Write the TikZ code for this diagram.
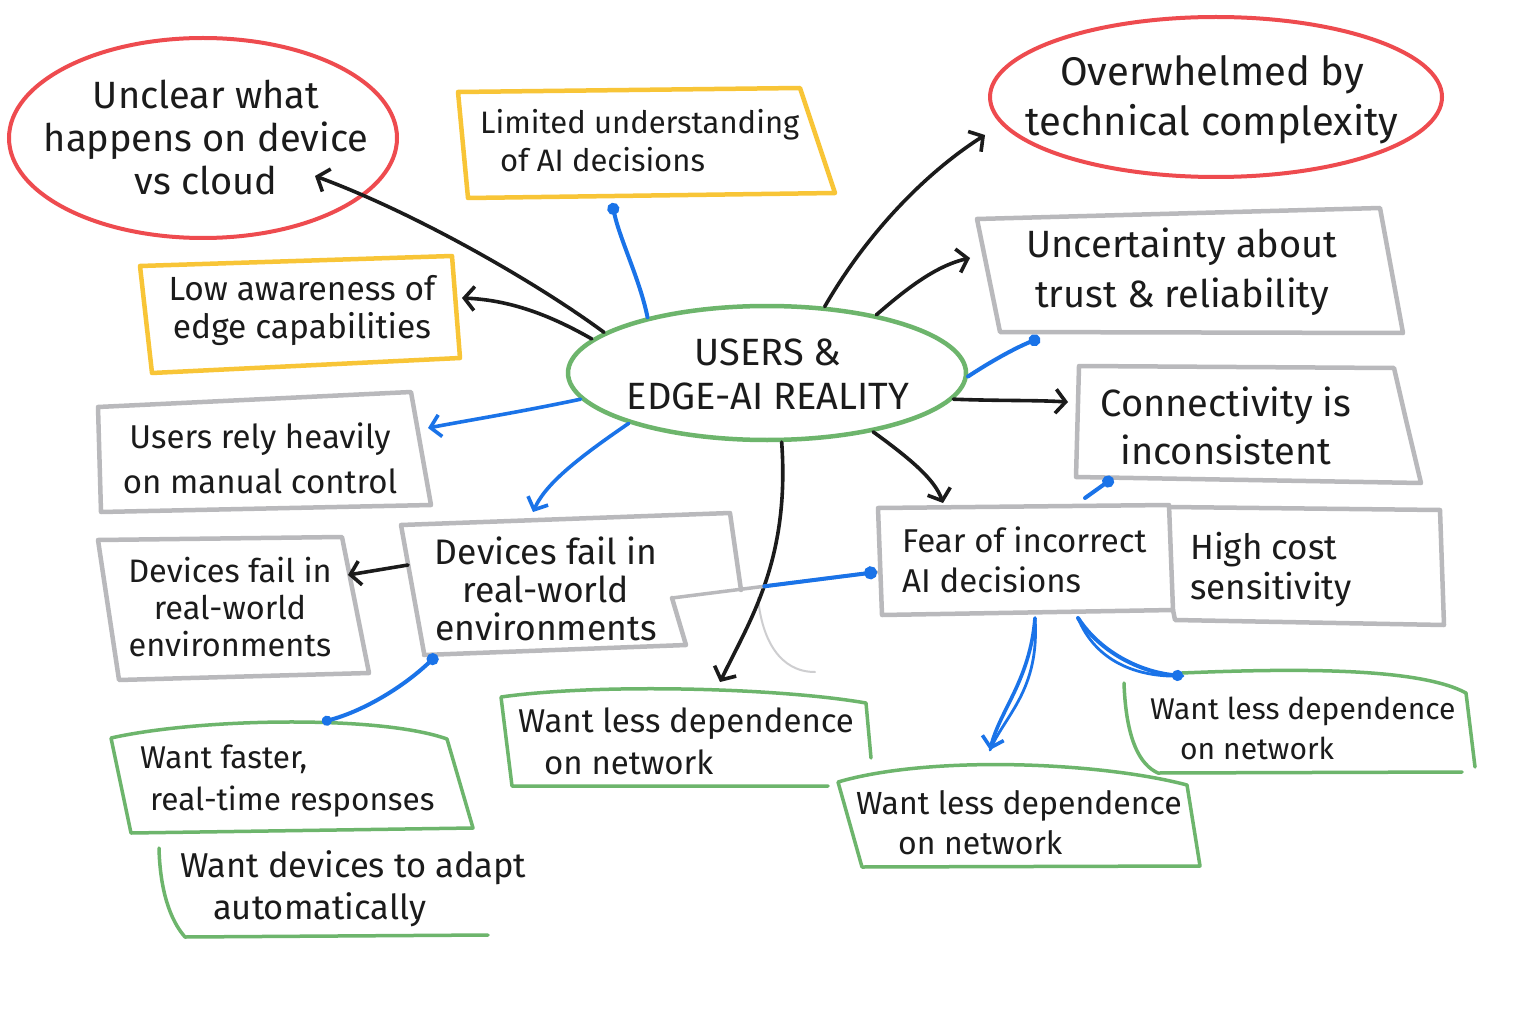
\documentclass[tikz,border=0pt]{standalone}
\usepackage{fontspec}
\setmainfont{Fira Sans}
\usetikzlibrary{arrows.meta,shapes.geometric,calc}
\definecolor{cred}{HTML}{EE4B4F}
\definecolor{cyel}{HTML}{F8C537}
\definecolor{cgrn}{HTML}{6DB56C}
\definecolor{cgry}{HTML}{B9B9BC}
\definecolor{cblu}{HTML}{1A73E8}
\definecolor{cink}{HTML}{1B1B1B}
\begin{document}
\begin{tikzpicture}[x=1pt,y=-1pt,
  redell/.style={ellipse,draw=cred,line width=4pt,inner sep=0pt},
  grnell/.style={ellipse,draw=cgrn,line width=4.5pt,inner sep=0pt},
  yelbox/.style={draw=cyel,line width=4.5pt,line join=round,line cap=round},
  grybox/.style={draw=cgry,line width=4.5pt,line join=round,line cap=round},
  grnbox/.style={draw=cgrn,line width=3.5pt,line join=round,line cap=round},
  blkarrow/.style={draw=cink,line width=3.6pt,line cap=round,-{Straight Barb[length=10pt,width=24pt,line width=3.6pt]}},
  blueline/.style={draw=cblu,line width=4pt,line cap=round},
  bluearrow/.style={draw=cblu,line width=3.6pt,line cap=round,-{Straight Barb[length=10pt,width=22pt,line width=3.6pt]}},
  lbl/.style={inner sep=0pt,align=center,text=cink},
  lbll/.style={inner sep=0pt,align=left,text=cink,anchor=west},
  fs/.style 2 args={font=\fontsize{#1}{#2}\selectfont}
]
\fill[white] (0,0) rectangle (1536,1024);
\useasboundingbox (0,0) rectangle (1536,1024);

% ---------- ellipses ----------
\node[redell,minimum width=388pt,minimum height=200pt] (unclear) at (203,138) {};
\node[lbl,fs={38}{43}] (unclearT) at (206,137) {Unclear what\\happens on device\\vs cloud};

\node[redell,minimum width=452pt,minimum height=160pt] (over) at (1216,97) {};
\node[lbl,fs={40}{50}] (overT) at (1212,100) {Overwhelmed by\\technical complexity};

\node[grnell,minimum width=398pt,minimum height=134pt] (core) at (767,373) {};
\node[lbl,fs={38}{44}] (coreT) at (768,374) {USERS \&\\EDGE-AI REALITY};

% ---------- yellow boxes ----------
\draw[yelbox] (458,92) -- (800,88) -- (835,193) -- (468,198) -- cycle;
\node[lbll,fs={31}{38}] (limited) at (480,141) {Limited understanding\\\hspace*{20pt}of AI decisions};

\draw[yelbox] (140,266) -- (452,256) -- (460,358) -- (152,373) -- cycle;
\node[lbl,fs={33.5}{38}] (low) at (302,311) {Low awareness of\\edge capabilities};

% ---------- grey boxes ----------
\draw[grybox] (977,219) -- (1380,208) -- (1403,333) -- (1000,332) -- cycle;
\node[lbl,fs={38}{50}] (uncert) at (1182,272) {Uncertainty about\\trust \& reliability};

\draw[grybox] (1079,366) -- (1394,368) -- (1406,420) -- (1421,483) -- (1076,477) -- cycle;
\node[lbl,fs={38}{48}] (conn) at (1226,426) {Connectivity is\\inconsistent};

\draw[grybox] (98,407) -- (411,392) -- (431,505) -- (101,512) -- cycle;
\node[lbl,fs={33}{45}] (users) at (260,458) {Users rely heavily\\on manual control};

\draw[grybox] (98,540) -- (342,537) -- (369,673) -- (119,680) -- cycle;
\node[lbl,fs={32.5}{37}] (devL) at (230,607) {Devices fail in\\real-world\\environments};

\draw[grybox] (424,653) -- (401,525) -- (730,513) -- (741,590);
\draw[grybox] (672,598) -- (686,645) -- (424,655);
\node[lbl,fs={35.5}{38}] (devM) at (546,589) {Devices fail in\\real-world\\environments};
\coordinate (notch) at (672,598);

\draw[grybox] (878,508) -- (1169,505) -- (1173,610) -- (882,615) -- cycle;
\node[lbll,fs={33}{40}] (fear) at (902,560) {Fear of incorrect\\AI decisions};

\draw[grybox] (1169,507) -- (1440,510) -- (1444,625) -- (1175,620) -- (1173,610);
\node[lbll,fs={35}{40}] (cost) at (1190,570) {High cost\\sensitivity};

% ---------- green boxes ----------
\draw[grnbox] (871,758) -- (866,703) .. controls (780,688) and (600,683) .. (501,697) -- (512,786) -- (828,786);
\node[lbll,fs={33}{42}] (wantM) at (518,741) {Want less dependence\\\hspace*{26pt}on network};

\draw[grnbox] (1124,683) .. controls (1126,740) and (1140,765) .. (1158,773) -- (1462,772);
\draw[grnbox] (1182,673) .. controls (1300,668) and (1420,668) .. (1466,693) -- (1475,767);
\node[lbll,fs={30}{40}] (wantR) at (1150,728) {Want less dependence\\\hspace*{30pt}on network};

\draw[grnbox] (838,782) .. controls (930,755) and (1100,762) .. (1187,785) -- (1200,866) -- (862,867) -- cycle;
\node[lbll,fs={32}{40}] (wantB) at (856,823) {Want less dependence\\\hspace*{42pt}on network};

\draw[grnbox] (111,738) .. controls (200,718) and (380,715) .. (447,739) -- (473,828) -- (131,833) -- cycle;
\node[lbll,fs={31.5}{42}] (faster) at (140,781) {Want faster,\\\hspace*{10pt}real-time responses};

\draw[grnbox] (159,848) .. controls (160,890) and (170,920) .. (185,937) -- (488,935);
\node[lbll,fs={34.5}{42}] (adapt) at (180,889) {Want devices to adapt\\\hspace*{33pt}automatically};

% faint stray stroke
\draw[cgry!70,line width=2pt,line cap=round] (758,598) .. controls (762,640) and (780,672) .. (815,672);

% ---------- connector end points ----------
\coordinate (tUnclear) at (315,176);
\coordinate (tLow) at (462,298);
\coordinate (dLimited) at (612,203);
\coordinate (tOver) at (985,135);
\coordinate (tUncert) at (970,258);
\coordinate (dUncert) at (1040,338);
\coordinate (tConn) at (1068,402);
\coordinate (dConn) at (1113,478);
\coordinate (eConn) at (1085,498);
\coordinate (tFear) at (943,503);
\coordinate (tWantM) at (720,682);
\coordinate (tUsers) at (428,428);
\coordinate (tDevM) at (533,512);
\coordinate (sDevM) at (408,565);
\coordinate (tDevL) at (348,575);
\coordinate (dDevM) at (437,655);
\coordinate (dFaster) at (322,722);
\coordinate (dFear) at (877,572);
\coordinate (sFearB) at (1035,618);
\coordinate (tWantB) at (990,750);
\coordinate (sFearR) at (1078,618);
\coordinate (dWantR) at (1183,676);

% ---------- black arrows ----------
\draw[blkarrow] (core.166) .. controls (540,285) and (420,215) .. (tUnclear);
\draw[blkarrow] (core.169) .. controls (550,315) and (510,300) .. (tLow);
\draw[blkarrow] (core.49) .. controls (870,228) and (930,170) .. (tOver);
\draw[blkarrow] (core.28) .. controls (905,290) and (935,266) .. (tUncert);
\draw[blkarrow] (core.-8) .. controls (1000,401) and (1035,400) .. (tConn);
\draw[blkarrow] (core.-29) .. controls (912,460) and (935,480) .. (tFear);
\draw[blkarrow] (core.-78) .. controls (790,560) and (750,620) .. (tWantM);
\draw[blkarrow] (sDevM) -- (tDevL);

% ---------- blue connectors ----------
\draw[blueline,-{Circle[length=12pt]}] (core.155) .. controls (640,280) and (620,240) .. (dLimited);
\draw[blueline,-{Circle[length=12pt]}] (core.-1) .. controls (990,362) and (1015,348) .. (dUncert);
\draw[blueline,{Circle[length=12pt]}-] (dConn) -- (eConn);
\draw[bluearrow] (core.188) .. controls (520,412) and (470,420) .. (tUsers);
\draw[bluearrow] (core.200) .. controls (575,460) and (545,485) .. (tDevM);
\draw[blueline,{Circle[length=12pt]}-{Circle[length=10pt]}] (dDevM) .. controls (400,690) and (360,712) .. (dFaster);
\draw[cgry,line width=3.5pt,line cap=round] (notch) -- (dFear);
\draw[blueline,-{Circle[length=13pt]}] ($(notch)!0.45!(dFear)$) -- (dFear);
\draw[bluearrow] (sFearB) .. controls (1030,680) and (1000,710) .. (tWantB);
\draw[cblu,line width=2.8pt,line cap=round] (sFearB) .. controls (1040,690) and (1005,715) .. (tWantB);
\draw[blueline,-{Circle[length=11pt]}] (sFearR) .. controls (1100,652) and (1140,672) .. (dWantR);
\draw[cblu,line width=2.8pt,line cap=round] (sFearR) .. controls (1095,660) and (1135,678) .. (dWantR);
\end{tikzpicture}
\end{document}
